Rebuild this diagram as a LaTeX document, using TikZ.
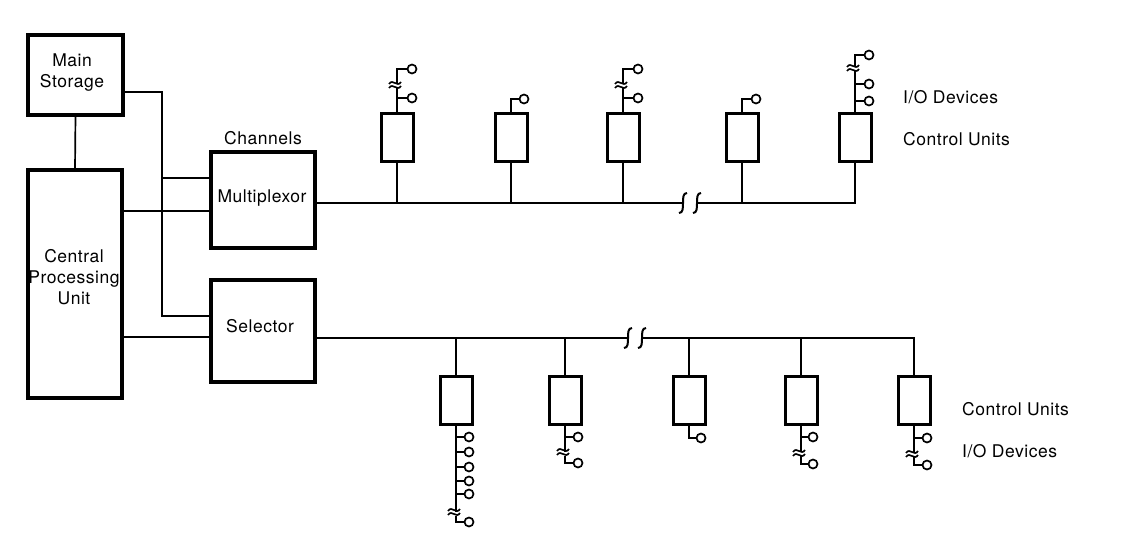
\documentclass[tikz,border=0pt]{standalone}
\usepackage{fontspec}
\setmainfont{TeX Gyre Heros}[LetterSpace=3]
\newcommand\hbrk[2]{\draw[ln, line width=2pt] (#1+4,#2-10) .. controls (#1-4,#2-10) and (#1+4,#2+10) .. (#1-4,#2+10);}
\newcommand\vbrk[2]{\draw[ln] (#1-8,#2+1) .. controls (#1-4,#2-5) and (#1,#2+5) .. (#1+4,#2-1);}
\begin{document}
\begin{tikzpicture}[x=1pt,y=-1pt,
  box/.style={draw, line width=3.2pt, rectangle, inner sep=0pt, outer sep=0pt},
  cu/.style={box, line width=3pt, minimum width=32pt, minimum height=48pt},
  dev/.style={draw, circle, line width=1.7pt, minimum size=9pt, inner sep=0pt, outer sep=0pt},
  ln/.style={line width=1.7pt},
  lbl/.style={font=\fontsize{17.5}{21}\selectfont, inner sep=0pt, align=center},
]
\fill[white] (0,0) rectangle (1124,536);
\useasboundingbox (0,0) rectangle (1124,536);
% main blocks
\node[box, minimum width=95pt, minimum height=80pt] (ms) at (75.5,75) {};
\node[box, minimum width=94pt, minimum height=228pt] (cpu) at (75,284) {};
\node[box, minimum width=104pt, minimum height=96pt] (mux) at (263,200) {};
\node[box, minimum width=104pt, minimum height=102pt] (sel) at (263,331) {};
\node[lbl] (mstxt) at (72,73) {Main\\Storage};
\node[lbl] (cputxt) at (74,277) {Central\\Processing\\Unit};
\node[lbl] (chtxt) at (263,138) {Channels};
\node[lbl] (muxtxt) at (262,198) {Multiplexor};
\node[lbl] (seltxt) at (260,326) {Selector};
\node[lbl, anchor=west] (tio) at (903,97) {I/O Devices};
\node[lbl, anchor=west] (tcu) at (903,139) {Control Units};
\node[lbl, anchor=west] (bcu) at (962,409) {Control Units};
\node[lbl, anchor=west] (bio) at (962,451) {I/O Devices};
% block connections
\coordinate (j92) at (162,92);
\coordinate (j178) at (162,178);
\coordinate (j316) at (162,316);
\coordinate (y211) at (0,211);
\coordinate (y337) at (0,337);
\draw[ln] (ms.east |- j92) -- (j92) -- (j316) -- (sel.west |- j316);
\draw[ln] (j178) -- (mux.west |- j178);
\draw[ln] (ms.south) -- (cpu.north);
\draw[ln] (cpu.east |- y211) -- (mux.west |- y211);
\draw[ln] (cpu.east |- y337) -- (sel.west |- y337);
% ---------- top bus ----------
\coordinate (tb0) at (0,203);
\coordinate (tbA) at (683,203);
\coordinate (tbB) at (697,203);
\node[cu] (t1) at (397,137.5) {};
\node[cu] (t2) at (511,137.5) {};
\node[cu] (t3) at (623,137.5) {};
\node[cu] (t4) at (742,137.5) {};
\node[cu] (t5) at (855,137.5) {};
\draw[ln] (mux.east |- tb0) -- (tbA);
\draw[ln] (tbB) -- (t5.south |- tb0) -- (t5.south);
\hbrk{683}{203} \hbrk{697}{203}
\foreach \n in {t1,t2,t3,t4}{\draw[ln] (\n.south) -- (\n.south |- tb0);}
% top devices
\node[dev] (t1a) at (412,98) {};
\node[dev] (t1b) at (412,69) {};
\draw[ln] (t1.north) -- (397,87);
\draw[ln] (397,83) -- (397,69) -- (t1b.west);
\draw[ln] (397,98) -- (t1a.west);
\vbrk{397}{83} \vbrk{397}{87}
\node[dev] (t2a) at (524,99) {};
\draw[ln] (t2.north) -- (511,99) -- (t2a.west);
\node[dev] (t3a) at (638,98) {};
\node[dev] (t3b) at (638,69) {};
\draw[ln] (t3.north) -- (623,87);
\draw[ln] (623,83) -- (623,69) -- (t3b.west);
\draw[ln] (623,98) -- (t3a.west);
\vbrk{623}{83} \vbrk{623}{87}
\node[dev] (t4a) at (756,99) {};
\draw[ln] (t4.north) -- (742,99) -- (t4a.west);
\node[dev] (t5a) at (869,101) {};
\node[dev] (t5b) at (869,84) {};
\node[dev] (t5c) at (869,55) {};
\draw[ln] (t5.north) -- (855,70);
\draw[ln] (855,66) -- (855,55) -- (t5c.west);
\draw[ln] (855,101) -- (t5a.west);
\draw[ln] (855,84) -- (t5b.west);
\vbrk{855}{66} \vbrk{855}{70}
% ---------- bottom bus ----------
\coordinate (bb0) at (0,338);
\coordinate (bbA) at (628,338);
\coordinate (bbB) at (642,338);
\node[cu] (b1) at (456,400) {};
\node[cu] (b2) at (565,400) {};
\node[cu] (b3) at (689,400) {};
\node[cu] (b4) at (801,400) {};
\node[cu] (b5) at (914,400) {};
\draw[ln] (sel.east |- bb0) -- (bbA);
\draw[ln] (bbB) -- (b5.north |- bb0) -- (b5.north);
\hbrk{628}{338} \hbrk{642}{338}
\foreach \n in {b1,b2,b3,b4}{\draw[ln] (\n.north) -- (\n.north |- bb0);}
% bottom devices
\foreach \k/\yy in {a/437,b/452,c/467,d/481,e/494}{
  \node[dev] (b1\k) at (469,\yy) {};
  \draw[ln] (456,\yy) -- (b1\k.west);
}
\node[dev] (b1f) at (469,522) {};
\draw[ln] (b1.south) -- (456,512);
\draw[ln] (456,516) -- (456,522) -- (b1f.west);
\vbrk{456}{510} \vbrk{456}{514}
\node[dev] (b2a) at (578,437) {};
\node[dev] (b2b) at (578,463) {};
\draw[ln] (b2.south) -- (565,452);
\draw[ln] (565,437) -- (b2a.west);
\draw[ln] (565,456) -- (565,463) -- (b2b.west);
\vbrk{565}{450} \vbrk{565}{454}
\node[dev] (b3a) at (701,438) {};
\draw[ln] (b3.south) -- (689,438) -- (b3a.west);
\node[dev] (b4a) at (813,437) {};
\node[dev] (b4b) at (813,464) {};
\draw[ln] (b4.south) -- (801,452);
\draw[ln] (801,437) -- (b4a.west);
\draw[ln] (801,456) -- (801,464) -- (b4b.west);
\vbrk{801}{451} \vbrk{801}{455}
\node[dev] (b5a) at (927,438) {};
\node[dev] (b5b) at (927,465) {};
\draw[ln] (b5.south) -- (914,452);
\draw[ln] (914,438) -- (b5a.west);
\draw[ln] (914,456) -- (914,465) -- (b5b.west);
\vbrk{914}{452} \vbrk{914}{456}
\end{tikzpicture}
\end{document}
